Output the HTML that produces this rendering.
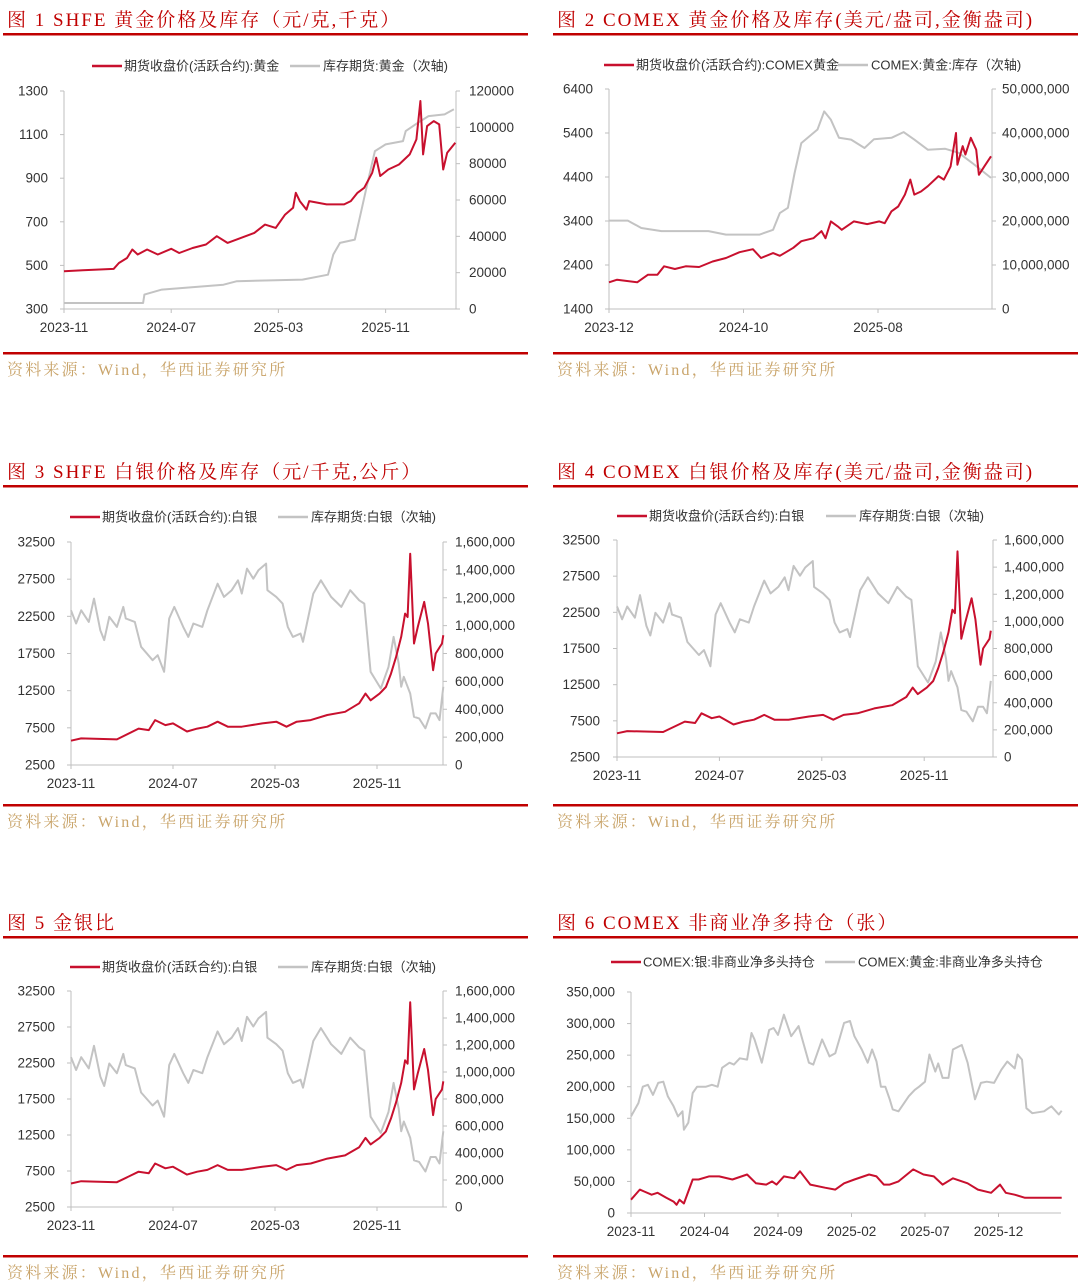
<!DOCTYPE html>
<html><head><meta charset="utf-8">
<style>
html,body{margin:0;padding:0;background:#fff;}
svg{display:block;}
.t{font-family:"Liberation Serif","Noto Serif CJK SC",serif;font-size:19px;fill:#c00000;letter-spacing:2px;}
.src{font-family:"Liberation Serif","Noto Serif CJK SC",serif;font-size:16px;fill:#c9a46a;letter-spacing:2.2px;}
.lg{font-family:"Liberation Sans","Noto Sans CJK SC",sans-serif;font-size:13px;fill:#333;}
.tk{font-family:"Liberation Sans","Noto Sans CJK SC",sans-serif;font-size:13.5px;fill:#333;}
</style></head>
<body>
<svg id="page" width="1080" height="1285" viewBox="0 0 1080 1285" xmlns="http://www.w3.org/2000/svg">
</svg>
<script>
// ---------- Chart 1: SHFE gold ----------
const c1Ticks = ["2023-11","2024-07","2025-03","2025-11"];
const c1TickMonths = [0,8,16,24];
const c1LeftTicks = [300,500,700,900,1100,1300];
const c1RightTicks = [0,20000,40000,60000,80000,100000,120000];
const c1PriceMonths = [0,1.4,3.7,4.1,4.7,5.1,5.5,6.2,7.0,8.0,8.6,9.6,10.6,11.4,12.2,13.2,14.2,15.0,15.8,16.5,17.1,17.3,17.6,18.1,18.3,19.6,20.9,21.4,21.9,22.4,23.0,23.3,23.6,24.2,25.0,25.8,26.3,26.6,26.8,27.1,27.6,28.0,28.3,28.6,29.2];
const c1Price = [473,478,484,511,534,573,550,573,550,576,557,580,596,634,603,626,649,687,672,733,764,833,795,756,795,780,780,795,833,856,925,994,910,940,963,1009,1078,1254,1009,1139,1162,1147,940,1017,1063];
const c1StockMonths = [0,5.9,6.0,7.3,11.9,12.9,17.8,19.7,20.1,20.6,21.7,22.1,22.6,23.2,24.0,25.3,25.5,26.4,27.2,28.4,29.1];
const c1Stock = [3300,3300,7900,10700,13400,15300,16200,18900,30000,36400,38200,51100,67600,86900,90600,92400,97900,102500,106200,107100,109900];

// ---------- Chart 2: COMEX gold ----------
const c2Ticks = ["2023-12","2024-10","2025-08"];
const c2TickMonths = [0,10,20];
const c2LeftTicks = [1400,2400,3400,4400,5400,6400];
const c2RightTicks = [0,10000000,20000000,30000000,40000000,50000000];
const c2PriceMonths = [0,0.6,2.1,2.9,3.6,4.1,4.9,5.7,6.7,7.7,8.7,9.7,10.7,11.3,12.2,12.7,13.7,14.3,15.2,15.8,16.1,16.5,17.0,17.3,18.2,19.2,20.1,20.5,21.0,21.5,22.0,22.4,22.7,23.2,23.7,24.5,24.9,25.4,25.8,25.9,26.3,26.5,26.9,27.3,27.5,27.9,28.4];
const c2Price = [2006,2067,2006,2180,2180,2370,2310,2370,2355,2480,2560,2690,2760,2560,2670,2610,2790,2940,3010,3170,3010,3390,3280,3200,3390,3330,3390,3350,3620,3730,4000,4340,4000,4070,4190,4420,4340,4640,5400,4680,5100,4910,5290,5020,4450,4640,4870];
const c2StockMonths = [0,1.4,2.4,3.9,7.4,8.7,11.2,12.2,12.7,13.3,13.8,14.3,15.5,16.0,16.5,17.1,18.0,19.0,19.7,21.0,21.9,22.7,23.7,25.0,26.0,27.0,28.4];
const c2Stock = [20100000,20100000,18400000,17700000,17700000,16900000,16900000,18000000,21800000,23000000,30900000,37700000,40800000,44900000,43000000,38900000,38500000,36600000,38600000,38900000,40200000,38500000,36200000,36400000,35500000,33200000,29800000];

// ---------- Charts 3/4/5: silver ----------
const agTicks = ["2023-11","2024-07","2025-03","2025-11"];
const agTickMonths = [0,8,16,24];
const agLeftTicks = [2500,7500,12500,17500,22500,27500,32500];
const agRightTicks = [0,200000,400000,600000,800000,1000000,1200000,1400000,1600000];
const agPriceMonths = [0,0.8,3.6,5.3,6.1,6.6,7.4,8.0,9.1,9.9,10.7,11.5,12.3,13.4,15.0,16.1,16.9,17.7,18.8,20.1,21.5,22.6,23.1,23.5,24.2,24.7,25.1,25.5,25.9,26.2,26.4,26.6,26.9,27.2,27.7,28.0,28.4,28.6,29.1,29.2];
const agPrice = [5770,6080,5950,7400,7200,8540,7870,8100,7000,7400,7650,8320,7650,7650,8100,8320,7650,8320,8540,9220,9660,10800,12100,11200,12100,13000,14800,17050,19740,22870,22400,30930,18840,21080,24440,21530,15260,17500,18840,19960];
const agStockMonths = [0,0.4,0.8,1.4,1.8,2.3,2.6,3.0,3.6,4.1,4.3,5.0,5.5,6.4,6.8,7.3,7.7,8.1,8.8,9.2,9.6,10.3,10.7,11.5,12.0,12.6,13.1,13.4,13.8,14.3,14.7,15.3,15.4,16.1,16.6,17.0,17.4,18.0,18.2,19.0,19.6,20.4,21.2,21.9,22.6,23.0,23.5,24.3,24.9,25.3,25.7,25.9,26.1,26.6,26.9,27.3,27.8,28.2,28.6,28.9,29.2];
const agStock = [1110000,1015000,1110000,1027000,1194000,967000,896000,1063000,991000,1134000,1051000,1027000,848000,752000,788000,669000,1051000,1134000,991000,919000,1015000,991000,1110000,1301000,1206000,1254000,1325000,1230000,1409000,1337000,1397000,1445000,1254000,1206000,1158000,991000,919000,943000,884000,1230000,1325000,1206000,1134000,1254000,1182000,1158000,669000,549000,704000,919000,728000,561000,633000,513000,346000,334000,263000,370000,370000,322000,561000];

// ---------- Chart 6: COMEX net long ----------
const c6Ticks = ["2023-11","2024-04","2024-09","2025-02","2025-07","2025-12"];
const c6TickMonths = [0,5,10,15,20,25];
const c6LeftTicks = [0,50000,100000,150000,200000,250000,300000,350000];
const c6GoldMonths = [0,0.5,0.8,1.15,1.5,1.85,2.2,2.5,2.9,3.2,3.5,3.6,3.9,4.2,4.5,5.1,5.5,5.9,6.2,6.7,7.0,7.4,7.9,8.2,8.4,8.9,9.4,9.7,10.0,10.4,10.9,11.4,12.1,12.4,13.0,13.5,13.9,14.5,14.9,15.2,15.7,16.1,16.4,16.7,17.0,17.3,17.6,17.8,18.2,18.9,19.3,19.6,20.0,20.3,20.7,20.9,21.2,21.6,21.9,22.5,22.9,23.4,23.8,24.2,24.7,25.2,25.6,26.1,26.3,26.6,26.9,27.3,28.1,28.4,28.6,29.1,29.3];
const c6Gold = [153000,174000,200000,203000,187000,206000,208000,185000,169000,153000,161000,132000,143000,190000,200000,200000,203000,200000,230000,238000,235000,245000,243000,285000,275000,238000,290000,293000,282000,314000,280000,296000,238000,235000,275000,248000,253000,301000,304000,280000,259000,238000,259000,240000,200000,200000,180000,164000,161000,185000,195000,200000,208000,251000,224000,237000,214000,214000,259000,266000,238000,180000,206000,208000,206000,227000,240000,229000,251000,243000,166000,158000,161000,166000,169000,156000,162000];
const c6SilverMonths = [0,0.6,0.9,1.4,1.8,2.4,2.9,3.1,3.3,3.6,4.2,4.6,5.3,6.0,6.9,7.9,8.5,9.2,9.6,9.9,10.4,11.1,11.5,12.2,13.2,13.9,14.5,15.2,16.2,16.7,17.2,17.6,18.2,19.2,19.9,20.6,21.2,21.9,22.9,23.6,24.5,25.1,25.5,26.1,26.8,28.2,29.3];
const c6Silver = [21000,37000,34000,29000,32000,24000,18000,13000,21000,15000,53000,53000,58000,58000,53000,61000,47000,45000,50000,45000,58000,55000,66000,45000,40000,37000,47000,53000,61000,58000,45000,45000,50000,69000,61000,58000,45000,55000,47000,37000,32000,45000,32000,29000,24000,24000,24000];

const RED = "#c8102e", GRAY = "#c3c3c3", AX = "#bfbfbf";
const NS = "http://www.w3.org/2000/svg";
const svg = document.getElementById("page");
function mk(tag, attrs, parent){
  const e = document.createElementNS(NS, tag);
  for (const k in attrs) e.setAttribute(k, attrs[k]);
  (parent || svg).appendChild(e);
  return e;
}
function fmt(v, comma){ return comma ? v.toLocaleString("en-US") : String(v); }

function frame(px, py, w, title, titleName, panelName){
  const g = mk("g", {});
  
  
  const t = mk("text", {x: px+4, y: py+26, class: "t"}, g);
  t.textContent = title;
  
  
  const l1 = mk("rect", {x: px, y: py+33, width: w, height: 2.5, fill: "#c00000"}, g);
  
  
  const l2 = mk("rect", {x: px, y: py+352, width: w, height: 2.5, fill: "#c00000"}, g);
  
  
  const s = mk("text", {x: px+4, y: py+375, class: "src"}, g);
  s.textContent = "资料来源：Wind，华西证券研究所";
  
  
  return g;
}

function legend(g, y, rx, rtext, gx, gtext){
  const a = mk("line", {x1: rx, x2: rx+30, y1: y, y2: y, stroke: RED, "stroke-width": 2.5}, g);
  
  
  const at = mk("text", {x: rx+32, y: y+4.5, class: "lg"}, g);
  at.textContent = rtext;
  
  
  const b = mk("line", {x1: gx, x2: gx+30, y1: y, y2: y, stroke: GRAY, "stroke-width": 2.5}, g);
  
  
  const bt = mk("text", {x: gx+33, y: y+4.5, class: "lg"}, g);
  bt.textContent = gtext;
  
  
}

function chart(g, c){
  const xs = m => c.x0 + m * c.pxm;
  const yl = v => c.yb - (v - c.lmin) / (c.lmax - c.lmin) * (c.yb - c.yt);
  const yr = v => c.yb - (v - c.rmin) / (c.rmax - c.rmin) * (c.yb - c.yt);
  const la = mk("line", {x1: c.x0, x2: c.x0, y1: c.yt, y2: c.yb, stroke: AX, "stroke-width": 1}, g);
  
  
  const ba = mk("line", {x1: c.x0, x2: c.xr, y1: c.yb, y2: c.yb, stroke: AX, "stroke-width": 1}, g);
  
  
  c.lt.forEach(v => {
    const y = yl(v);
    mk("line", {x1: c.x0-4, x2: c.x0, y1: y, y2: y, stroke: AX}, g);
    const t = mk("text", {x: c.lx, y: y+4.5, "text-anchor": "end", class: "tk"}, g);
    t.textContent = fmt(v, c.lcomma);
    
    
  });
  if (c.rt){
    const ra = mk("line", {x1: c.xr, x2: c.xr, y1: c.yt, y2: c.yb, stroke: AX, "stroke-width": 1}, g);
    
    
    c.rt.forEach(v => {
      const y = yr(v);
      mk("line", {x1: c.xr, x2: c.xr+4, y1: y, y2: y, stroke: AX}, g);
      const t = mk("text", {x: c.rx, y: y+4.5, class: "tk"}, g);
      t.textContent = fmt(v, c.rcomma);
      
      
    });
  }
  c.tm.forEach((m, i) => {
    const x = xs(m);
    mk("line", {x1: x, x2: x, y1: c.yb, y2: c.yb+4, stroke: AX}, g);
    const t = mk("text", {x: x, y: c.yb+23, "text-anchor": "middle", class: "tk"}, g);
    t.textContent = c.tl[i];
    
    
  });
  const gpts = c.gm.map((m, i) => xs(m).toFixed(1) + "," + (c.gAxis === "left" ? yl(c.gv[i]) : yr(c.gv[i])).toFixed(1)).join(" ");
  const gl = mk("polyline", {points: gpts, fill: "none", stroke: GRAY, "stroke-width": 2, "stroke-linejoin": "round"}, g);
  
  
  const rpts = c.rm.map((m, i) => xs(m).toFixed(1) + "," + yl(c.rv[i]).toFixed(1)).join(" ");
  const rl = mk("polyline", {points: rpts, fill: "none", stroke: RED, "stroke-width": 2, "stroke-linejoin": "round"}, g);
  
  
}

let g = frame(3, 0, 525, "图 1 SHFE 黄金价格及库存（元/克,千克）", "chart1-title", "chart1-panel");
legend(g, 66, 92, "期货收盘价(活跃合约):黄金", 290, "库存期货:黄金（次轴)");
chart(g, {x0:64, pxm:13.4, xr:456, yt:91, yb:309, lmin:300, lmax:1300, rmin:0, rmax:120000,
  lt:c1LeftTicks, rt:c1RightTicks, lx:48, rx:469, tm:c1TickMonths, tl:c1Ticks,
  rm:c1PriceMonths, rv:c1Price, gm:c1StockMonths, gv:c1Stock, gAxis:"right", rName:"gold-price-line", gName:"gold-stock-line"});

g = frame(553, 0, 525, "图 2 COMEX 黄金价格及库存(美元/盎司,金衡盎司)", "chart2-title", "chart2-panel");
legend(g, 65, 604, "期货收盘价(活跃合约):COMEX黄金", 838, "COMEX:黄金:库存（次轴)");
chart(g, {x0:609, pxm:13.45, xr:992, yt:89, yb:309, lmin:1400, lmax:6400, rmin:0, rmax:50000000,
  lt:c2LeftTicks, rt:c2RightTicks, lx:593, rx:1002, rcomma:true, tm:c2TickMonths, tl:c2Ticks,
  rm:c2PriceMonths, rv:c2Price, gm:c2StockMonths, gv:c2Stock, gAxis:"right", rName:"comex-gold-price-line", gName:"comex-gold-stock-line"});

g = frame(3, 452, 525, "图 3  SHFE 白银价格及库存（元/千克,公斤）", "chart3-title", "chart3-panel");
legend(g, 517, 70, "期货收盘价(活跃合约):白银", 278, "库存期货:白银（次轴)");
chart(g, {x0:71, pxm:12.75, xr:443, yt:542, yb:765, lmin:2500, lmax:32500, rmin:0, rmax:1600000,
  lt:agLeftTicks, rt:agRightTicks, lx:55, rx:455, rcomma:true, tm:agTickMonths, tl:agTicks,
  rm:agPriceMonths, rv:agPrice, gm:agStockMonths, gv:agStock, gAxis:"right", rName:"shfe-silver-price-line", gName:"shfe-silver-stock-line"});

g = frame(553, 452, 525, "图 4  COMEX 白银价格及库存(美元/盎司,金衡盎司)", "chart4-title", "chart4-panel");
legend(g, 516, 617, "期货收盘价(活跃合约):白银", 826, "库存期货:白银（次轴)");
chart(g, {x0:617, pxm:12.8, xr:993, yt:540, yb:757, lmin:2500, lmax:32500, rmin:0, rmax:1600000,
  lt:agLeftTicks, rt:agRightTicks, lx:600, rx:1004, rcomma:true, tm:agTickMonths, tl:agTicks,
  rm:agPriceMonths, rv:agPrice, gm:agStockMonths, gv:agStock, gAxis:"right", rName:"comex-silver-price-line", gName:"comex-silver-stock-line"});

g = frame(3, 903, 525, "图 5 金银比", "chart5-title", "chart5-panel");
legend(g, 967, 70, "期货收盘价(活跃合约):白银", 278, "库存期货:白银（次轴)");
chart(g, {x0:71, pxm:12.75, xr:443, yt:991, yb:1207, lmin:2500, lmax:32500, rmin:0, rmax:1600000,
  lt:agLeftTicks, rt:agRightTicks, lx:55, rx:455, rcomma:true, tm:agTickMonths, tl:agTicks,
  rm:agPriceMonths, rv:agPrice, gm:agStockMonths, gv:agStock, gAxis:"right", rName:"ratio-silver-price-line", gName:"ratio-silver-stock-line"});

g = frame(553, 903, 525, "图 6  COMEX 非商业净多持仓（张）", "chart6-title", "chart6-panel");
legend(g, 962, 611, "COMEX:银:非商业净多头持仓", 825, "COMEX:黄金:非商业净多头持仓");
chart(g, {x0:631, pxm:14.7, xr:1061, yt:992, yb:1213, lmin:0, lmax:350000,
  lt:c6LeftTicks, lx:615, lcomma:true, tm:c6TickMonths, tl:c6Ticks,
  rm:c6SilverMonths, rv:c6Silver, gm:c6GoldMonths, gv:c6Gold, gAxis:"left", rName:"silver-net-long-line", gName:"gold-net-long-line"});
</script>
</body></html>
